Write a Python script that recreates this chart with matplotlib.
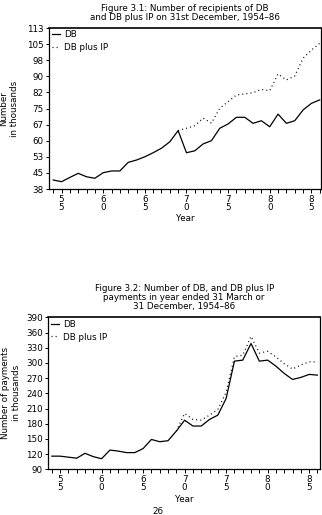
import numpy as np
import matplotlib
matplotlib.use("Agg")
import matplotlib.pyplot as plt

years = np.arange(1954, 1987)

# Figure 3.1 - recipients (thousands)
db_recip = [42.2, 41.4, 43.4, 45.3, 43.7, 43.0, 45.6, 46.4, 46.4, 50.4, 51.5,
            53.0, 54.9, 57.0, 60.0, 65.2, 54.9, 55.8, 59.0, 60.5, 66.3, 68.3,
            71.4, 71.4, 68.6, 69.8, 67.0, 72.9, 68.6, 69.8, 74.8, 77.9, 79.5]
ip_years = np.arange(1969, 1987)
dbip_recip = [65.2, 66.3, 67.5, 71.0, 68.7, 75.6, 78.7, 81.8, 82.3, 82.9, 84.4,
              83.8, 91.6, 88.8, 90.6, 98.9, 102.7, 105.9]

# Figure 3.2 - payments (thousands)
db_pay = [116, 116, 114, 112, 121.6, 115, 111, 128, 126, 123, 123, 131, 149,
          144.5, 146.5, 165.5, 187, 175.5, 175.5, 188.5, 197, 230, 303.6,
          305.6, 338.5, 303.6, 305.6, 293.7, 279.3, 267.5, 271.5, 277.4, 276]
dbip_pay = [165.5, 200.4, 188.6, 187.2, 197, 208.3, 242, 312.5, 315.4, 352.5,
            319.5, 323, 312, 298.5, 288, 296, 302.2, 302.2]

yt1 = [38, 45, 53, 60, 67, 75, 82, 90, 98, 105, 113]
yt1_pos = np.linspace(38, 113, 11)
yt2 = np.arange(90, 391, 30)
xt = [1955, 1960, 1965, 1970, 1975, 1980, 1985]
xt_lab = ["5\n5", "6\n0", "6\n5", "7\n0", "7\n5", "8\n0", "8\n5"]

fs = 6.3
fig = plt.figure(figsize=(3.22, 5.15), dpi=100)


def style(ax, xlim):
    ax.set_xlim(*xlim)
    for s in ax.spines.values():
        s.set_linewidth(0.9)
    ax.spines["top"].set_linewidth(1.2)
    ax.set_xticks(xt)
    ax.set_xticklabels(xt_lab, fontsize=fs, linespacing=0.85)
    ax.set_xticks(years, minor=True)
    ax.tick_params(axis="x", which="both", direction="out", length=3, width=0.7, pad=1)
    ax.tick_params(axis="y", direction="out", length=2.5, width=0.7, pad=1.5, labelsize=fs)
    ax.set_xlabel("Year", fontsize=fs, labelpad=2)
    ax.legend(loc="upper left", frameon=False, fontsize=fs, handlelength=1.0,
              handletextpad=0.4, borderaxespad=0.05, borderpad=0.2, labelspacing=0.45)


ax1 = fig.add_axes([0.1537, 0.633, 0.843, 0.3126])
ax1.plot(years, db_recip, color="black", lw=0.9, label="DB")
ax1.plot(ip_years, dbip_recip, color="black", lw=0.9, ls=(0, (0.8, 2.5)), label="DB plus IP")
ax1.set_ylim(38, 113)
ax1.set_yticks(yt1_pos)
ax1.set_yticklabels([str(v) for v in yt1])
style(ax1, (1953.55, 1986.15))
ax1.set_ylabel("Number\nin thousands", fontsize=fs, labelpad=6)
ax1.set_title("Figure 3.1: Number of recipients of DB\nand DB plus IP on 31st December, 1954\u201386",
              fontsize=fs, pad=6, linespacing=1.0)

ax2 = fig.add_axes([0.1506, 0.0887, 0.843, 0.295])
ax2.plot(years, db_pay, color="black", lw=0.9, label="DB")
ax2.plot(ip_years, dbip_pay, color="black", lw=0.9, ls=(0, (0.8, 2.5)), label="DB plus IP")
ax2.set_ylim(90, 390)
ax2.set_yticks(yt2)
style(ax2, (1953.6, 1986.3))
ax2.set_ylabel("Number of payments\nin thousands", fontsize=fs, labelpad=4)
ax2.set_title("Figure 3.2: Number of DB, and DB plus IP\npayments in year ended 31 March or\n31 December, 1954\u201386",
              fontsize=fs, pad=6, linespacing=1.0)

fig.text(158 / 322, 1 - 511 / 515, "26", fontsize=fs, ha="center", va="center")

fig.savefig("out.png", dpi=100)
